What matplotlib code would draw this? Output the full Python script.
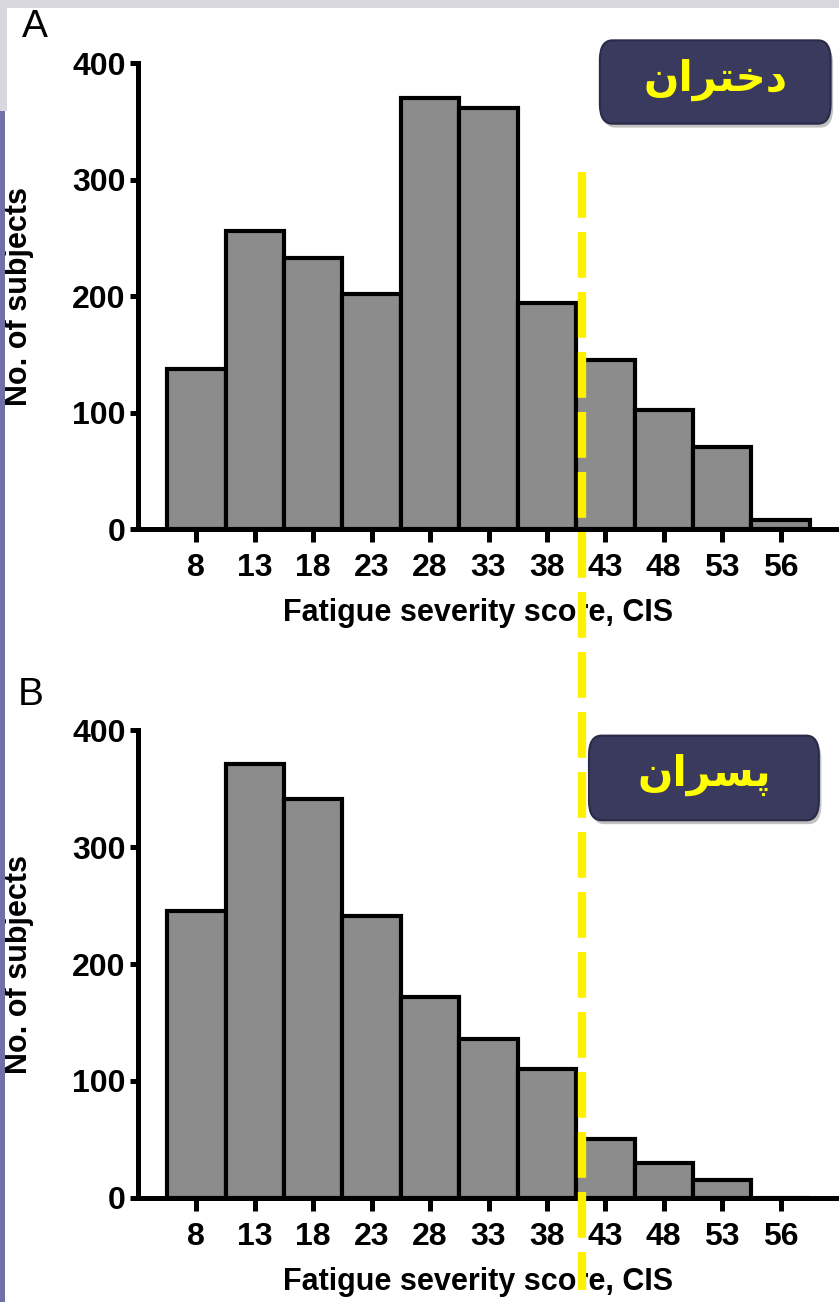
import numpy as np
import matplotlib.pyplot as plt
from matplotlib.patches import FancyBboxPatch, Rectangle
from matplotlib.lines import Line2D

# data
bins = ["8", "13", "18", "23", "28", "33", "38", "43", "48", "53", "56"]
girls = [137, 256, 233, 202, 370, 361, 194, 145, 102, 70, 8]
boys = [245, 371, 341, 241, 172, 136, 110, 50, 30, 15, 0]
cutoff_pos = 6.6  # cut-off line between bins 38 and 43
panel_labels = ["A", "B"]
group_names = ["دختران", "پسران"]  # girls, boys
xlabel = "Fatigue severity score, CIS"
ylabel = "No. of subjects"

# minimal Arabic/Persian shaping (matplotlib has no shaping / bidi)
FORMS = {  # isolated, final, initial, medial
    "د": ("\uFEA9", "\uFEAA", None, None),
    "ر": ("\uFEAD", "\uFEAE", None, None),
    "ا": ("\uFE8D", "\uFE8E", None, None),
    "ن": ("\uFEE5", "\uFEE6", "\uFEE7", "\uFEE8"),
    "خ": ("\uFEA5", "\uFEA6", "\uFEA7", "\uFEA8"),
    "ت": ("\uFE95", "\uFE96", "\uFE97", "\uFE98"),
    "س": ("\uFEB1", "\uFEB2", "\uFEB3", "\uFEB4"),
    "پ": ("\uFB56", "\uFB57", "\uFB58", "\uFB59"),
}


def shape(word):
    out = []
    for i, ch in enumerate(word):
        prev_joins = i > 0 and FORMS[word[i - 1]][2] is not None
        next_ok = i < len(word) - 1 and FORMS[ch][2] is not None
        iso, fin, ini, med = FORMS[ch]
        if prev_joins and next_ok:
            out.append(med)
        elif prev_joins:
            out.append(fin)
        elif next_ok:
            out.append(ini)
        else:
            out.append(iso)
    return "".join(reversed(out))


plt.rcParams["font.family"] = ["Liberation Sans", "DejaVu Sans"]

fig = plt.figure(figsize=(8.39, 13.02), dpi=100)

# slide background bits
fig.patches.append(Rectangle((0, 0.994), 1, 0.006, transform=fig.transFigure,
                             facecolor="#d8d8de", edgecolor="none"))
fig.patches.append(Rectangle((0, 0.915), 0.008, 0.085, transform=fig.transFigure,
                             facecolor="#d8d8de", edgecolor="none"))
fig.patches.append(Rectangle((0, 0), 0.006, 0.915, transform=fig.transFigure,
                             facecolor="#7070a8", edgecolor="none"))

axes_rects = [[0.1645, 0.5937, 0.8355, 0.3579],
              [0.1645, 0.0799, 0.8355, 0.3594]]
box_rects = [(0.715, 0.905, 0.275, 0.064), (0.702, 0.370, 0.274, 0.065)]
letter_pos = [(0.041, 0.979), (0.037, 0.466)]

x = np.arange(len(bins))
axs = []
for k, counts in enumerate([girls, boys]):
    ax = fig.add_axes(axes_rects[k])
    ax.bar(x, counts, width=1.0, color="#8c8c8c", edgecolor="black",
           linewidth=3.0, zorder=2)
    ax.set_xlim(-1.0, 11.0)
    ax.set_ylim(0, 400)
    ax.set_yticks([0, 100, 200, 300, 400])
    ax.set_xticks(x)
    ax.set_xticklabels(bins)
    for s in ["top", "right"]:
        ax.spines[s].set_visible(False)
    for s in ["left", "bottom"]:
        ax.spines[s].set_linewidth(3.6)
        ax.spines[s].set_zorder(3)
    ax.tick_params(width=3.6, labelsize=23)
    ax.tick_params(axis="x", length=9, pad=8)
    ax.tick_params(axis="y", length=6, pad=3)
    for lab in ax.get_xticklabels() + ax.get_yticklabels():
        lab.set_fontweight("bold")
    ax.set_xlabel(xlabel, fontsize=22, fontweight="bold")
    ax.xaxis.set_label_coords(0.485, -0.148)
    ax.set_ylabel(ylabel, fontsize=22, fontweight="bold")
    ax.yaxis.set_label_coords(-0.148, 0.5)
    ax.patch.set_alpha(0)
    axs.append(ax)

    fig.text(*letter_pos[k], panel_labels[k], fontsize=28, ha="center",
             va="center")

    # dark rounded label box with shadow
    bx, by, bw, bh = box_rects[k]
    shadow = FancyBboxPatch((bx + 0.003, by - 0.003), bw, bh,
                            boxstyle="round,pad=0,rounding_size=0.015",
                            transform=fig.transFigure, facecolor="#9a9a9a",
                            edgecolor="none", alpha=0.6, zorder=4)
    box = FancyBboxPatch((bx, by), bw, bh,
                         boxstyle="round,pad=0,rounding_size=0.015",
                         transform=fig.transFigure, facecolor="#393a5e",
                         edgecolor="#2a2b48", linewidth=1.5, zorder=5)
    fig.patches.extend([shadow, box])
    fig.text(bx + bw / 2, by + bh / 2 + 0.002, shape(group_names[k]),
             family=["DejaVu Sans"], fontsize=30, fontweight="bold",
             color="#ffff00", ha="center", va="center", zorder=6)

# yellow dashed cut-off line spanning both panels
fig.canvas.draw()
px = axs[0].transData.transform((cutoff_pos, 0))
xf = fig.transFigure.inverted().transform(px)[0]
fig.lines.append(Line2D([xf, xf], [0.868, 0.009], transform=fig.transFigure,
                        color="#fff000", linewidth=6,
                        linestyle=(0, (5.5, 1.7)), solid_capstyle="butt",
                        dash_capstyle="butt", zorder=10))

fig.savefig("out.png", dpi=100)
